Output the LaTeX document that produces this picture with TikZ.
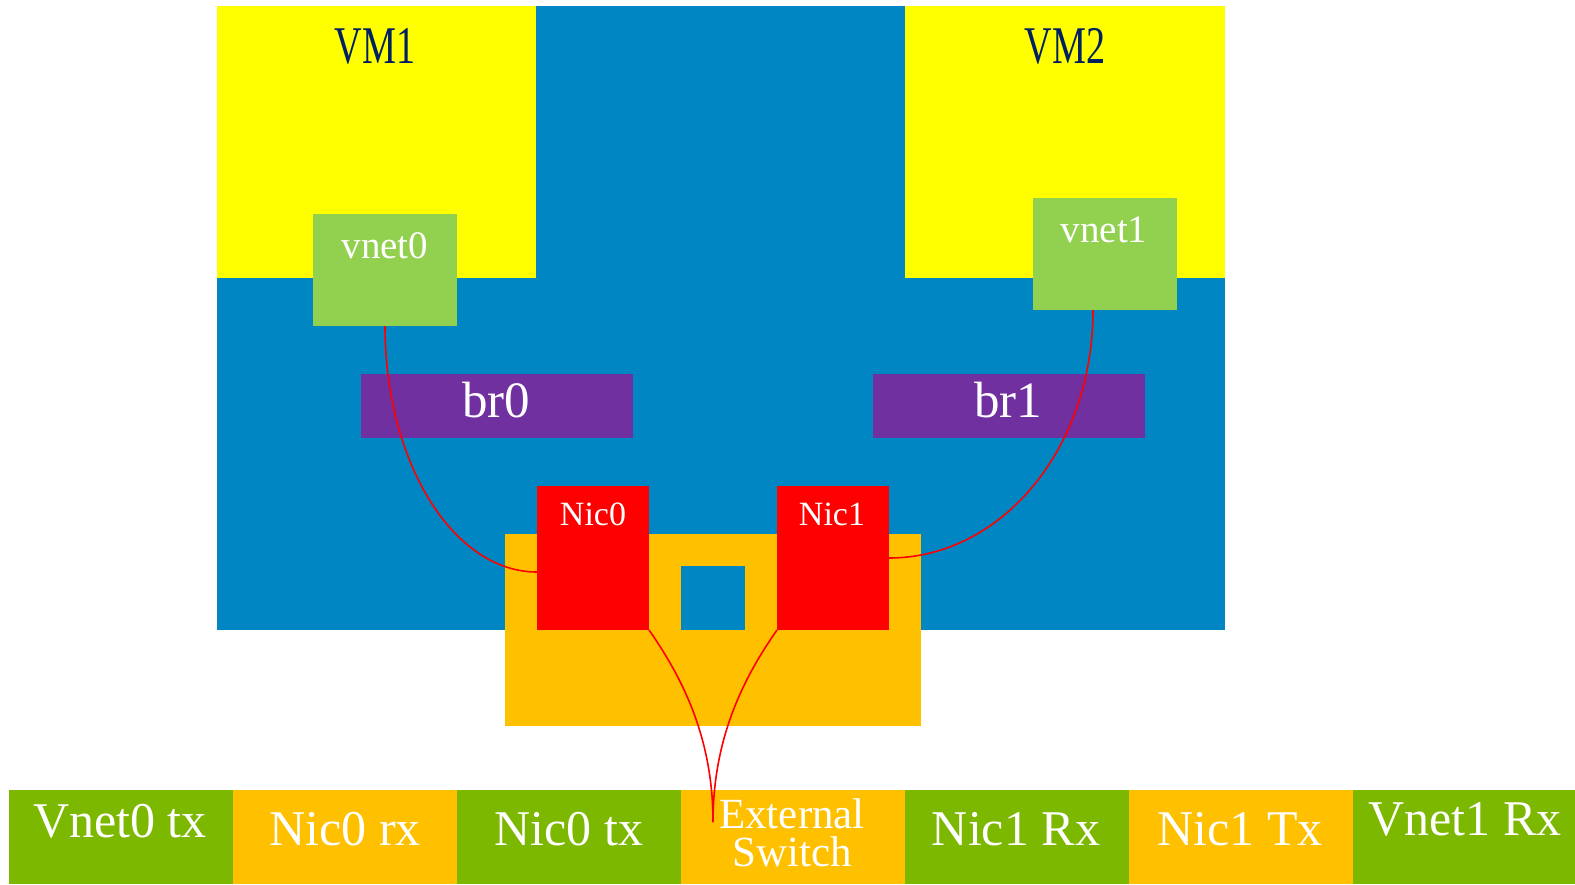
\documentclass[tikz,border=0pt]{standalone}
\usepackage{fontspec}
\setmainfont{Liberation Serif}
\newfontfamily\vmfont{Liberation Serif}[FakeStretch=0.72]
\definecolor{hostblue}{RGB}{0,134,194}
\definecolor{vmyellow}{RGB}{255,255,0}
\definecolor{vnetgreen}{RGB}{146,208,80}
\definecolor{brpurple}{RGB}{112,48,160}
\definecolor{swgold}{RGB}{255,192,0}
\definecolor{cellgreen}{RGB}{124,184,0}
\definecolor{nicred}{RGB}{255,0,0}
\definecolor{vmnavy}{RGB}{0,32,96}
\tikzset{
  box/.style={draw=none, inner sep=0pt, outer sep=0pt, anchor=north west},
  lbl/.style={inner sep=0pt, outer sep=0pt, anchor=base, text=white},
  wire/.style={draw=nicred, line width=1.6pt},
}
\begin{document}
\begin{tikzpicture}[x=1pt,y=-1pt]
\useasboundingbox (0,0) rectangle (1575,884);
% host and VMs
\node[box, fill=hostblue, minimum width=1008pt, minimum height=624pt] (host) at (217,6) {};
\node[box, fill=vmyellow, minimum width=319pt, minimum height=272pt] (vm1) at (217,6) {};
\node[box, fill=vmyellow, minimum width=320pt, minimum height=272pt] (vm2) at (905,6) {};
\node[box, fill=vnetgreen, minimum width=144pt, minimum height=112pt] (vnet0) at (313,214) {};
\node[box, fill=vnetgreen, minimum width=144pt, minimum height=112pt] (vnet1) at (1033,198) {};
\node[box, fill=brpurple, minimum width=272pt, minimum height=64pt] (br0) at (361,374) {};
\node[box, fill=brpurple, minimum width=272pt, minimum height=64pt] (br1) at (873,374) {};
\node[box, fill=swgold, minimum width=416pt, minimum height=192pt] (switch) at (505,534) {};
\node[box, fill=hostblue, minimum width=64pt, minimum height=64pt] (port) at (681,566) {};
\node[box, fill=nicred, minimum width=112pt, minimum height=144pt] (nic0) at (537,486) {};
\node[box, fill=nicred, minimum width=112pt, minimum height=144pt] (nic1) at (777,486) {};
% bottom strip
\node[box, fill=cellgreen, minimum width=224pt, minimum height=94pt] (c1) at (9,790) {};
\node[box, fill=swgold, minimum width=224pt, minimum height=94pt] (c2) at (233,790) {};
\node[box, fill=cellgreen, minimum width=224pt, minimum height=94pt] (c3) at (457,790) {};
\node[box, fill=swgold, minimum width=224pt, minimum height=94pt] (c4) at (681,790) {};
\node[box, fill=cellgreen, minimum width=224pt, minimum height=94pt] (c5) at (905,790) {};
\node[box, fill=swgold, minimum width=224pt, minimum height=94pt] (c6) at (1129,790) {};
\node[box, fill=cellgreen, minimum width=222pt, minimum height=94pt] (c7) at (1353,790) {};
% labels
\node[lbl, text=vmnavy, font=\vmfont\fontsize{53}{60}\selectfont] (vm1t) at (375,63) {VM1};
\node[lbl, text=vmnavy, font=\vmfont\fontsize{53}{60}\selectfont] (vm2t) at (1065,63) {VM2};
\node[lbl, font=\fontsize{39}{44}\selectfont] (vnet0t) at (385,258) {vnet0};
\node[lbl, font=\fontsize{39}{44}\selectfont] (vnet1t) at (1104,242) {vnet1};
\node[lbl, font=\fontsize{51}{58}\selectfont] (br0t) at (496,417) {br0};
\node[lbl, font=\fontsize{51}{58}\selectfont] (br1t) at (1008,417) {br1};
\node[lbl, font=\fontsize{34}{40}\selectfont] (nic0t) at (593,525) {Nic0};
\node[lbl, font=\fontsize{34}{40}\selectfont] (nic1t) at (832,525) {Nic1};
\node[lbl, font=\fontsize{50}{56}\selectfont] (c1t) at (120,837) {Vnet0 tx};
\node[lbl, font=\fontsize{50}{56}\selectfont] (c2t) at (345,845) {Nic0 rx};
\node[lbl, font=\fontsize{50}{56}\selectfont] (c3t) at (569,845) {Nic0 tx};
\node[lbl, anchor=north, align=center, font=\fontsize{43}{38}\selectfont] (c4t) at (792,799) {External\\Switch};
\node[lbl, font=\fontsize{50}{56}\selectfont] (c5t) at (1016,845) {Nic1 Rx};
\node[lbl, font=\fontsize{50}{56}\selectfont] (c6t) at (1240,845) {Nic1 Tx};
\node[lbl, font=\fontsize{50}{56}\selectfont] (c7t) at (1465,835) {Vnet1 Rx};
% wires
\coordinate (sw) at (713,822);
\draw[wire] (vnet0.south) .. controls +(0,136) and +(-84,0) .. ([yshift=-14pt]nic0.west);
\draw[wire] ([xshift=-12pt]vnet1.south) .. controls +(0,138) and +(113,0) .. (nic1.east);
\draw[wire] (nic0.south east) .. controls +(35,50) and +(0,-82) .. (sw);
\draw[wire] (nic1.south west) .. controls +(-35,50) and +(0,-82) .. (sw);
\end{tikzpicture}
\end{document}
